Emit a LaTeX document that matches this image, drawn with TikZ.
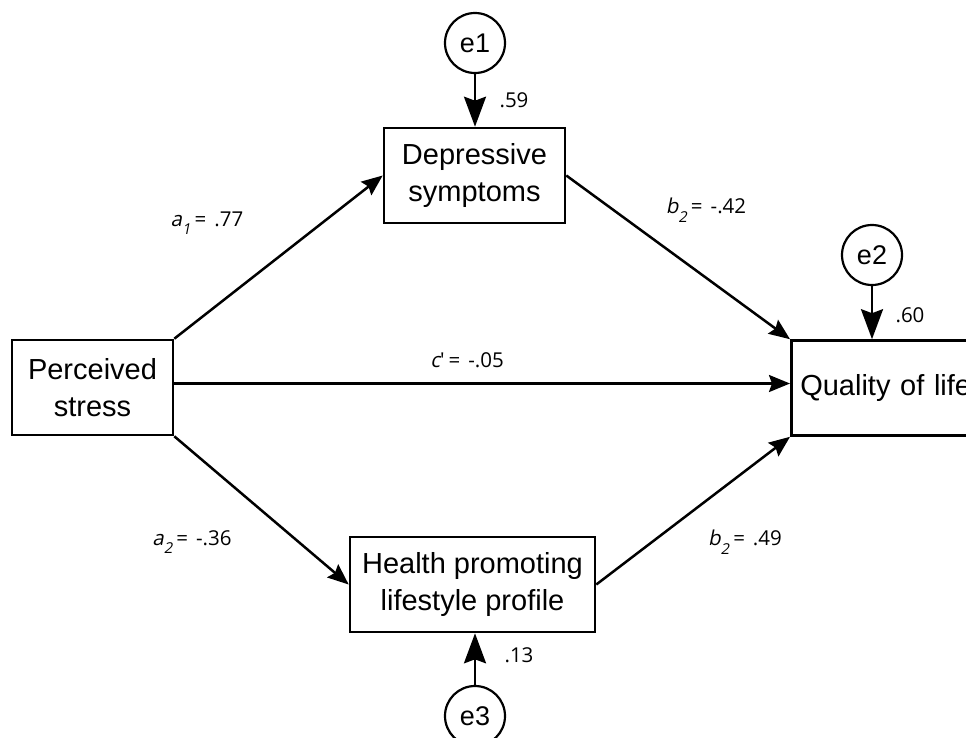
\documentclass[tikz,border=0pt]{standalone}
\usepackage{fontspec}
\setmainfont{Liberation Sans}
\newfontfamily\labfont{Open Sans}
\newfontfamily\labsl{Open Sans}[FakeSlant=0.2]
\usetikzlibrary{arrows.meta}
\newcommand{\lbvar}[2]{{\labsl #1}\raisebox{-0.42em}{\fontsize{15}{15}\selectfont\labsl #2}}
\newcommand{\lbeq}{\hspace{4pt}=\hspace{8pt}}
\begin{document}
\begin{tikzpicture}[x=1pt,y=-1pt,
  box/.style={draw, line width=2.6pt, minimum height=95pt, align=center,
    font=\fontsize{29}{37}\selectfont, inner sep=0pt},
  err/.style={draw, circle, line width=2.2pt, minimum size=60pt, inner sep=0pt,
    font=\fontsize{27}{27}\selectfont},
  patharr/.style={line width=2.5pt, -{Stealth[length=21pt,width=17pt,inset=3pt]}},
  errarr/.style={line width=2.6pt, -{Stealth[length=30pt,width=22pt,inset=4pt]}},
  lab/.style={font=\labfont\fontsize{20.5}{20.5}\selectfont, inner sep=0pt}]
\useasboundingbox (0,0) rectangle (966,737);
\clip (0,0) rectangle (966,737);
\fill[white] (0,0) rectangle (966,737);

% nodes
\node[box, minimum width=161pt] (per) at (92.5,387.5) {Perceived\\stress};
\node[box, minimum width=181pt] (dep) at (474.5,175.5) {Depressive\\symptoms};
\node[box, minimum width=245pt] (hea) at (472.5,584.5) {Health promoting\\lifestyle profile};
\node[box, anchor=west, text width=190pt, align=left, inner xsep=9pt] (qol) at (790,388) {Quality of life};

\node[err] (e1) at (475,43) {e1};
\node[err] (e2) at (872,255) {e2};
\node[err] (e3) at (475,716) {e3};

% error arrows
\draw[errarr] (e1.south) -- (e1 |- dep.north);
\draw[errarr] (e2.south) -- (e2 |- qol.north);
\draw[errarr] (e3.north) -- (e3 |- hea.south);

% paths
\draw[patharr] (per.north east) -- (dep.west);
\draw[patharr] (dep.east) -- (qol.north west);
\draw[patharr] ([yshift=4pt]per.east) -- ([yshift=4pt]per.east -| qol.west);
\draw[patharr] (per.south east) -- (hea.west);
\draw[patharr] (hea.east) -- (qol.south west);

% labels
\node[lab] (l59) at (514,100) {.59};
\node[lab] (l60) at (910,315) {.60};
\node[lab] (l13) at (519,655) {.13};
\node[lab] (la1) at (207,223) {\lbvar{a}{1}\lbeq.77};
\node[lab] (lb1) at (706,210) {\lbvar{b}{2}\lbeq-.42};
\node[lab] (la2) at (192,542) {\lbvar{a}{2}\lbeq-.36};
\node[lab] (lb2) at (745,542) {\lbvar{b}{2}\lbeq.49};
\node[lab] (lc) at (467,360) {{\labsl c}'\lbeq-.05};
\end{tikzpicture}
\end{document}
